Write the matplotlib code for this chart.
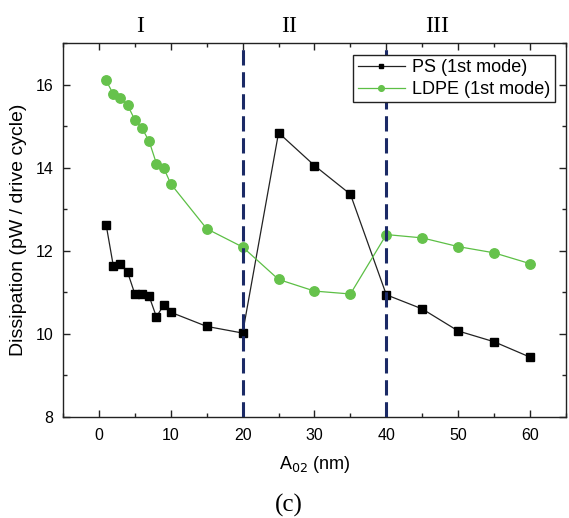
import matplotlib
matplotlib.use("Agg")
import matplotlib.pyplot as plt
from matplotlib.ticker import MultipleLocator

amplitude = [1, 2, 3, 4, 5, 6, 7, 8, 9, 10, 15, 20, 25, 30, 35, 40, 45, 50, 55, 60]
ps_dissipation = [12.63, 11.64, 11.68, 11.48, 10.96, 10.97, 10.90, 10.41, 10.69, 10.52,
                  10.18, 10.02, 14.84, 14.05, 13.36, 10.94, 10.60, 10.07, 9.81, 9.44]
ldpe_dissipation = [16.10, 15.77, 15.68, 15.50, 15.15, 14.95, 14.63, 14.10, 14.00, 13.61,
                    12.53, 12.09, 11.31, 11.03, 10.96, 12.39, 12.31, 12.10, 11.95, 11.69]
boundaries = [20, 40]
region_labels = ["I", "II", "III"]
region_centers = [5.8, 26.5, 47.0]

plt.rcParams['font.family'] = ['Liberation Sans', 'DejaVu Sans']

fig = plt.figure(figsize=(5.69, 5.18), dpi=100)
ax = fig.add_axes([0.1107, 0.195, 0.884, 0.722])

ax.plot(amplitude, ps_dissipation, color='#222222', lw=0.9, marker='s', ms=6,
        mfc='black', mec='black', label='PS (1st mode)', zorder=3)
ax.plot(amplitude, ldpe_dissipation, color='#5cbf45', lw=0.9, marker='o', ms=6.8,
        mfc='#66c24c', mec='#66c24c', label='LDPE (1st mode)', zorder=3)

for b in boundaries:
    ax.axvline(b, color='#1b2a66', lw=2.2, ls=(0, (5, 2.2)), zorder=4)

ax.set_xlim(-5, 65)
ax.set_ylim(8, 17)
ax.xaxis.set_major_locator(MultipleLocator(10))
ax.xaxis.set_minor_locator(MultipleLocator(5))
ax.yaxis.set_major_locator(MultipleLocator(2))
ax.yaxis.set_minor_locator(MultipleLocator(1))
ax.tick_params(which='both', direction='in', top=True, right=True, labelsize=11.5,
               width=1.0, color='#222222')
ax.tick_params(which='major', length=5)
ax.tick_params(which='minor', length=3)
for s in ax.spines.values():
    s.set_linewidth(1.0)
    s.set_color('#222222')
ax.tick_params(axis='x', pad=8)
ax.tick_params(axis='y', pad=7)

ax.set_xlabel('A$_{02}$ (nm)', fontsize=13, labelpad=8)
ax.set_ylabel('Dissipation (pW / drive cycle)', fontsize=14, labelpad=6)

for lab, cx in zip(region_labels, region_centers):
    ax.text(cx, 17.15, lab, ha='center', va='bottom', fontsize=17,
            family='Liberation Serif')

fig.text(0.508, 0.024, '(c)', ha='center', va='center',
         fontsize=18, family='Liberation Serif')

leg = ax.legend(loc='upper right', bbox_to_anchor=(0.985, 0.978), fontsize=13,
                frameon=True, fancybox=False, edgecolor='#222222', framealpha=1.0,
                markerscale=0.6, handlelength=2.6, borderpad=0.25, labelspacing=0.25,
                handletextpad=0.4, borderaxespad=0.2)
leg.get_frame().set_linewidth(1.0)
leg.set_zorder(6)

fig.savefig('out.png', dpi=100)
